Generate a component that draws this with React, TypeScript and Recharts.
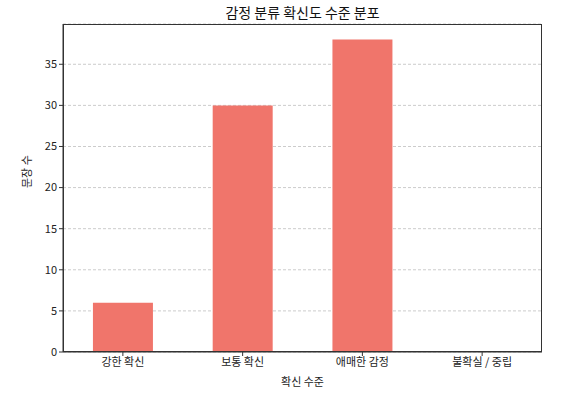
import { BarChart, Bar, XAxis, YAxis, CartesianGrid } from 'recharts';

const levels = ['강한 확신', '보통 확신', '애매한 감정', '불확실 / 중립'];
const counts = [6, 30, 38, 0];
const yTicks = [0, 5, 10, 15, 20, 25, 30, 35];

const data = levels.map((level, i) => ({ level, count: counts[i] }));

const FONT = '"Noto Sans CJK KR", "Noto Sans", sans-serif';

export default function App() {
  return (
    <div style={{ position: 'absolute', left: 0, top: 0, width: 564, height: 399, fontFamily: FONT }}>
      <div
        style={{
          position: 'absolute',
          left: 63,
          width: 479,
          top: 1,
          textAlign: 'center',
          fontSize: 14,
          lineHeight: '22px',
          color: '#111',
        }}
      >
        감정 분류 확신도 수준 분포
      </div>
      <BarChart
        width={564}
        height={399}
        data={data}
        margin={{ top: 24, right: 22, left: 0, bottom: 0 }}
        barCategoryGap="25%"
      >
        <CartesianGrid vertical={false} stroke="#cccccc" strokeDasharray="3 2" />
        <XAxis
          dataKey="level"
          height={47}
          tick={{ fontSize: 11, fill: '#222', fontFamily: FONT }}
          tickLine={{ stroke: '#333' }}
          tickSize={4}
          axisLine={{ stroke: '#333' }}
          label={{ value: '확신 수준', position: 'insideBottom', offset: 13, fontSize: 11, fill: '#222', fontFamily: FONT }}
        />
        <YAxis
          width={63}
          domain={[0, 39.9]}
          ticks={yTicks}
          tick={{ fontSize: 11, fill: '#222', fontFamily: FONT }}
          tickLine={{ stroke: '#333' }}
          tickSize={4}
          axisLine={{ stroke: '#333' }}
          label={{ value: '문장 수', angle: -90, position: 'insideLeft', offset: 27, fontSize: 11, fill: '#222', fontFamily: FONT }}
        />
        <Bar dataKey="count" fill="#f0756b" isAnimationActive={false} />
      </BarChart>
      <div
        style={{
          position: 'absolute',
          left: 63,
          top: 24,
          width: 479,
          height: 328,
          border: '1px solid #333',
          boxSizing: 'border-box',
          pointerEvents: 'none',
        }}
      />
    </div>
  );
}
